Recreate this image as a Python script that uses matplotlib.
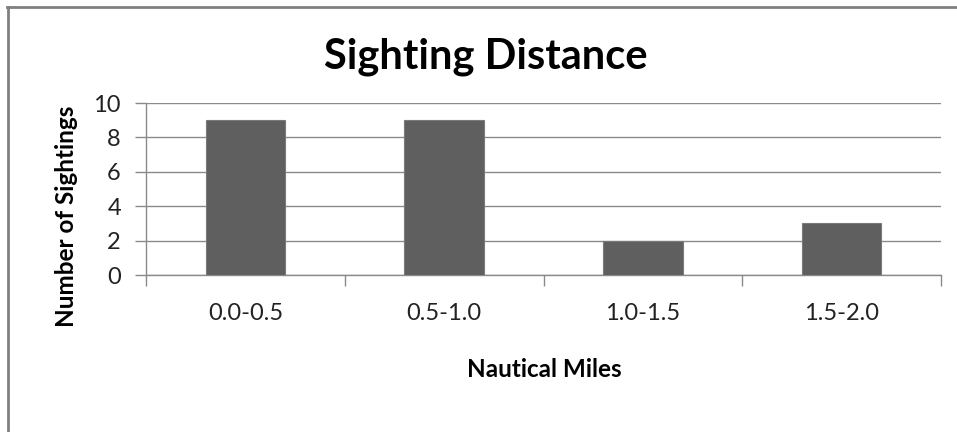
import matplotlib
matplotlib.use("Agg")
from matplotlib import pyplot as plt
from matplotlib.lines import Line2D
import numpy as np

# sighting counts per distance bin
categories = ["0.0-0.5", "0.5-1.0", "1.0-1.5", "1.5-2.0"]
sightings = [9, 9, 2, 3]
y_ticks = [0, 2, 4, 6, 8, 10]

plt.rcParams['font.family'] = ['Lato', 'DejaVu Sans']

W, H = 957, 432
fig = plt.figure(figsize=(W / 100, H / 100), dpi=100)
ax = fig.add_axes([146 / W, 1 - 275 / H, 795 / W, 172 / H])

x = np.arange(len(categories))
ax.bar(x, sightings, width=0.4, color="#5f5f5f", edgecolor="#7a7a7a",
       linewidth=0.8, zorder=3)

ax.set_xlim(-0.5, len(categories) - 0.5)
ax.set_ylim(0, 10)
ax.set_yticks(y_ticks)
ax.set_yticklabels([str(t) for t in y_ticks], fontsize=17, color="#222222")
ax.yaxis.grid(True, color="#8a8a8a", linewidth=1.0, zorder=0)

# category ticks sit on the bin boundaries, labels in the middle
ax.set_xticks(np.arange(len(categories) + 1) - 0.5)
ax.set_xticklabels([])
ax.set_xticks(x, minor=True)
ax.set_xticklabels(categories, minor=True, fontsize=17, color="#222222")
ax.tick_params(axis="x", which="minor", length=0, pad=20)
ax.tick_params(axis="x", which="major", length=8, color="#8a8a8a", width=1.0)
ax.tick_params(axis="y", length=8, color="#8a8a8a", width=1.0, pad=10)

for side in ["top", "right"]:
    ax.spines[side].set_visible(False)
for side in ["left", "bottom"]:
    ax.spines[side].set_color("#8a8a8a")
    ax.spines[side].set_linewidth(1.0)

fig.text(486 / W, 1 - 69 / H, "Sighting Distance", ha="center",
         va="baseline", fontsize=30, fontweight="bold", color="black")
fig.text(544 / W, 1 - 377 / H, "Nautical Miles", ha="center",
         va="baseline", fontsize=17.5, fontweight="bold", color="black")
fig.text(67 / W, 1 - 216 / H, "Number of Sightings", ha="center",
         va="center", rotation=90, fontsize=17.5, fontweight="bold",
         color="black")

# chart frame: only the left and top edges show
fig.add_artist(Line2D([8 / W, 8 / W], [0, 1 - 6.5 / H],
                      transform=fig.transFigure, color="#808080", linewidth=2))
fig.add_artist(Line2D([7 / W, 1], [1 - 6.5 / H, 1 - 6.5 / H],
                      transform=fig.transFigure, color="#808080", linewidth=2))

fig.savefig("out.png", dpi=100, facecolor="white")
